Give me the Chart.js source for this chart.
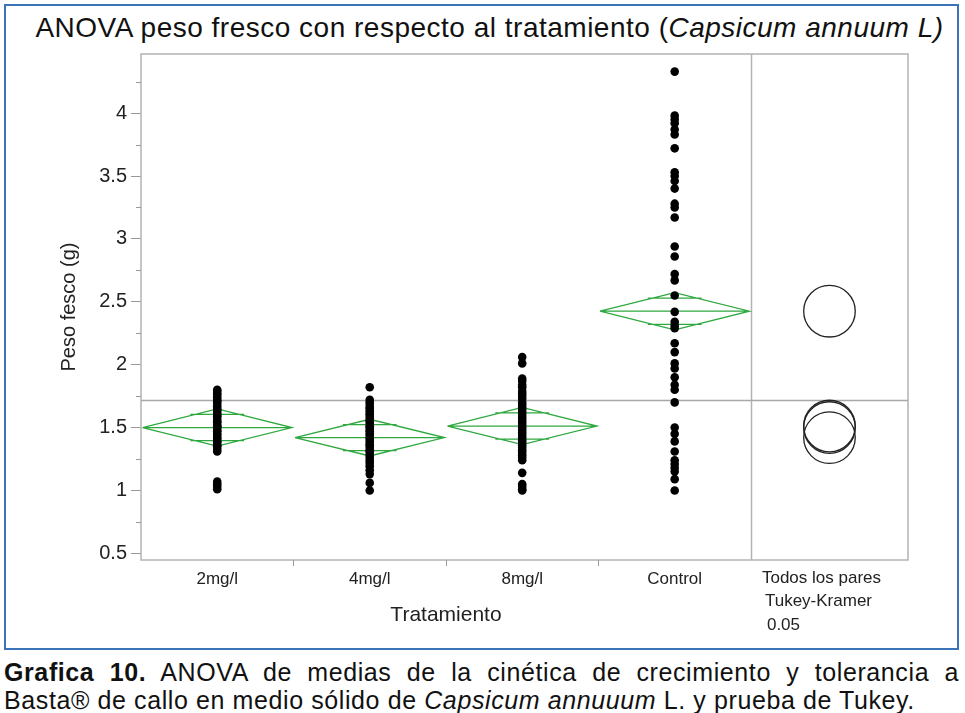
<!DOCTYPE html>
<html>
<head>
<meta charset="utf-8">
<script src="https://cdn.jsdelivr.net/npm/chart.js@4/dist/chart.umd.min.js"></script>
<style>
    body { margin: 0; background: #fff; font-family: "Liberation Sans", Arial, sans-serif; }
    #frame { position: absolute; left: 4px; top: 4px; width: 951px; height: 642px; border: 2px solid #3b73b9; }
    #title { position: absolute; left: 12px; top: 12px; width: 955px; text-align: center; font-size: 28px; letter-spacing: 0.5px; color: #111; }
    .cap { position: absolute; left: 4px; width: 955px; font-size: 25px; letter-spacing: 0.6px; color: #111; white-space: nowrap; line-height: 28px; }
    #cap1 { top: 658px; text-align: justify; text-align-last: justify; }
    #cap2 { top: 686px; }
    #wrap { position: absolute; left: 0; top: 0; width: 965px; height: 713px; }
</style>
</head>
<body>
<div id="frame"></div>
<div id="title">ANOVA peso fresco con respecto al tratamiento (<i>Capsicum annuum L)</i></div>
<div class="cap" id="cap1"><b>Grafica 10.</b> ANOVA de medias de la cinética de crecimiento y tolerancia a</div>
<div class="cap" id="cap2">Basta® de callo en medio sólido de <i>Capsicum annuuum</i> L. y prueba de Tukey.</div>
<div id="wrap"><canvas id="chart"></canvas></div>
<script>
// Data
const categories = ['2mg/l', '4mg/l', '8mg/l', 'Control'];
const peso2mg = [1.80, 1.79, 1.77, 1.76, 1.74, 1.72, 1.71, 1.69, 1.67, 1.65, 1.64, 1.62, 1.60, 1.59, 1.57, 1.55, 1.54,
    1.52, 1.51, 1.50, 1.48, 1.47, 1.45, 1.44, 1.42, 1.41, 1.39, 1.38, 1.36, 1.35, 1.33, 1.31, 1.07, 1.05, 1.03, 1.01];
const peso4mg = [1.82, 1.72, 1.70, 1.68, 1.66, 1.65, 1.63, 1.61, 1.60, 1.58, 1.56, 1.55, 1.53, 1.51, 1.50, 1.48, 1.47,
    1.45, 1.44, 1.42, 1.41, 1.39, 1.37, 1.36, 1.34, 1.32, 1.31, 1.29, 1.27, 1.25, 1.23, 1.21, 1.19, 1.16, 1.13, 1.06, 1.00];
const peso8mg = [2.06, 2.01, 1.89, 1.87, 1.84, 1.82, 1.79, 1.77, 1.75, 1.73, 1.70, 1.68, 1.66, 1.64, 1.62, 1.60, 1.58,
    1.56, 1.54, 1.52, 1.50, 1.48, 1.46, 1.44, 1.42, 1.40, 1.38, 1.36, 1.34, 1.32, 1.30, 1.28, 1.26, 1.24, 1.14, 1.05,
    1.03, 1.01, 1.00];
const pesoControl = [4.33, 3.98, 3.95, 3.92, 3.87, 3.83, 3.72, 3.53, 3.50, 3.46, 3.40, 3.28, 3.25, 3.17, 2.94, 2.86,
    2.72, 2.67, 2.55, 2.42, 2.34, 2.31, 2.29, 2.17, 2.10, 2.01, 1.97, 1.90, 1.84, 1.80, 1.70, 1.50, 1.45, 1.39, 1.31,
    1.24, 1.21, 1.18, 1.15, 1.09, 1.00];
const groups = [peso2mg, peso4mg, peso8mg, pesoControl];

// means diamonds (95% CI half width) and Tukey circles
const means = [1.50, 1.42, 1.512, 2.425];
const ciHalf = [0.148, 0.146, 0.148, 0.148];
const grandMean = 1.716;
const tukeyRadius = 0.205;

const yTicks = [0.5, 1, 1.5, 2, 2.5, 3, 3.5, 4];
const yMinorTicks = [0.75, 1.25, 1.75, 2.25, 2.75, 3.25, 3.75, 4.25];
const tukeyLabel = ['Todos los pares', 'Tukey-Kramer', '0.05'];

// layout of the x scale: one unit per category, extra panel for the circles
const xMin = -0.5;
const xMax = 4.53;
const panelStart = 3.5;
const circleX = (panelStart + xMax) / 2;
const halfW = 0.49;
const green = '#2fa83f';
const font = '"Liberation Sans", Arial, sans-serif';

function diamond(i) {
    const m = means[i], c = ciHalf[i], o = c / Math.SQRT2, ow = halfW * 0.36;
    return [
        {x: i - halfW, y: m}, {x: i, y: m + c}, {x: i + halfW, y: m}, {x: i, y: m - c}, {x: i - halfW, y: m},
        {x: i, y: null},
        {x: i - halfW, y: m}, {x: i + halfW, y: m},
        {x: i, y: null},
        {x: i - ow, y: m + o}, {x: i + ow, y: m + o},
        {x: i, y: null},
        {x: i - ow, y: m - o}, {x: i + ow, y: m - o}
    ];
}

const datasets = [];
datasets.push({
    type: 'line',
    data: [{x: xMin, y: grandMean}, {x: xMax, y: grandMean}],
    borderColor: '#a8a8a8',
    borderWidth: 1.5,
    pointRadius: 0,
    order: 10
});
categories.forEach((c, i) => {
    datasets.push({
        type: 'line',
        data: diamond(i),
        borderColor: green,
        borderWidth: 1.3,
        pointRadius: 0,
        spanGaps: false,
        order: 5
    });
});
groups.forEach((vals, i) => {
    datasets.push({
        type: 'scatter',
        data: vals.map(v => ({x: i, y: v})),
        backgroundColor: '#000',
        borderWidth: 0,
        pointRadius: 4.3,
        order: 1
    });
});
datasets.push({
    type: 'scatter',
    data: means.map(m => ({x: circleX, y: m})),
    backgroundColor: 'rgba(0,0,0,0)',
    borderColor: '#222',
    borderWidth: 1.3,
    pointRadius: ctx => {
        const y = ctx.chart.scales.y;
        return Math.abs(y.getPixelForValue(ctx.raw.y - tukeyRadius) - y.getPixelForValue(ctx.raw.y));
    },
    order: 2
});

// frame, divider, minor ticks and the extra texts
const extras = {
    id: 'extras',
    beforeDatasetsDraw(chart) {
        const {ctx, chartArea: a, scales: {x, y}} = chart;
        ctx.save();
        ctx.strokeStyle = '#b3b3b3';
        ctx.lineWidth = 1.5;
        ctx.strokeRect(a.left, a.top, a.right - a.left, a.bottom - a.top);
        const dx = Math.round(x.getPixelForValue(panelStart)) + 0.5;
        ctx.beginPath();
        ctx.moveTo(dx, a.top);
        ctx.lineTo(dx, a.bottom);
        ctx.stroke();
        ctx.lineWidth = 1;
        ctx.strokeStyle = '#999';
        ctx.beginPath();
        yMinorTicks.forEach(v => {
            const py = Math.round(y.getPixelForValue(v)) + 0.5;
            ctx.moveTo(a.left - 5, py);
            ctx.lineTo(a.left, py);
        });
        [0.5, 1.5, 2.5].forEach(v => {
            const px = Math.round(x.getPixelForValue(v)) + 0.5;
            ctx.moveTo(px, a.bottom);
            ctx.lineTo(px, a.bottom + 6);
        });
        ctx.stroke();
        ctx.restore();
    },
    afterDraw(chart) {
        const {ctx, scales: {x}} = chart;
        ctx.save();
        ctx.fillStyle = '#222';
        ctx.textBaseline = 'middle';
        ctx.font = '21px ' + font;
        ctx.textAlign = 'center';
        ctx.fillText('Tratamiento', x.getPixelForValue(1.5), 615);
        ctx.font = '17px ' + font;
        ctx.textAlign = 'left';
        const lx = x.getPixelForValue(panelStart) + 11;
        tukeyLabel.forEach((t, k) => ctx.fillText(t, lx + (k === 0 ? 0 : k === 1 ? 3 : 5), 578 + k * 23.5));
        ctx.restore();
    }
};

new Chart(document.getElementById('chart'), {
    data: {datasets},
    options: {
        responsive: true,
        maintainAspectRatio: false,
        animation: false,
        layout: {padding: {left: 0, top: 54, right: 57, bottom: 93}},
        plugins: {legend: {display: false}, tooltip: {enabled: false}},
        scales: {
            x: {
                type: 'linear',
                min: xMin,
                max: xMax,
                afterFit: s => { s.height = 60; },
                afterBuildTicks: s => { s.ticks = categories.map((c, i) => ({value: i})); },
                grid: {display: false, drawTicks: false},
                border: {display: false},
                ticks: {
                    padding: 9,
                    color: '#222',
                    font: {size: 17, family: font},
                    callback: (v, i) => categories[i]
                }
            },
            y: {
                type: 'linear',
                min: 0.447,
                max: 4.47,
                afterFit: s => { s.width = 141; },
                afterBuildTicks: s => { s.ticks = yTicks.map(v => ({value: v})); },
                grid: {drawOnChartArea: false, drawTicks: true, tickLength: 10, color: '#999'},
                border: {display: false},
                ticks: {
                    padding: 4,
                    color: '#222',
                    font: {size: 20, family: font},
                    callback: v => String(v)
                },
                title: {
                    display: true,
                    text: 'Peso fesco (g)',
                    color: '#222',
                    font: {size: 20, family: font},
                    padding: {top: 57, bottom: 0}
                }
            }
        }
    },
    plugins: [extras]
});
</script>
</body>
</html>
